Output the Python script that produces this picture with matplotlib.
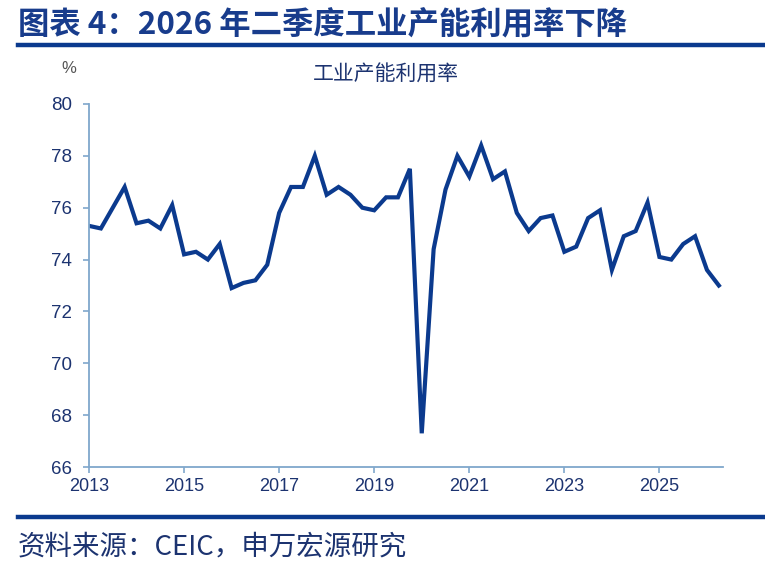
import matplotlib
matplotlib.use("Agg")
import matplotlib.pyplot as plt
from matplotlib.lines import Line2D

plt.rcParams['font.family'] = ['Noto Sans CJK SC', 'DejaVu Sans']

# Quarterly data 2013Q1 - 2026Q2
quarters = [f"{y}Q{q}" for y in range(2013, 2027) for q in range(1, 5)][:54]
utilization = [
    75.3, 75.2, 76.0, 76.8,   # 2013
    75.4, 75.5, 75.2, 76.1,   # 2014
    74.2, 74.3, 74.0, 74.6,   # 2015
    72.9, 73.1, 73.2, 73.8,   # 2016
    75.8, 76.8, 76.8, 78.0,   # 2017
    76.5, 76.8, 76.5, 76.0,   # 2018
    75.9, 76.4, 76.4, 77.5,   # 2019
    67.3, 74.4, 76.7, 78.0,   # 2020
    77.2, 78.4, 77.1, 77.4,   # 2021
    75.8, 75.1, 75.6, 75.7,   # 2022
    74.3, 74.5, 75.6, 75.9,   # 2023
    73.6, 74.9, 75.1, 76.2,   # 2024
    74.1, 74.0, 74.6, 74.9,   # 2025
    73.6, 73.0,               # 2026
]
xtick_labels = ["2013", "2015", "2017", "2019", "2021", "2023", "2025"]
yticks = [66, 68, 70, 72, 74, 76, 78, 80]

title = "图表 4：2026 年二季度工业产能利用率下降"
series_name = "工业产能利用率"
source = "资料来源：CEIC，申万宏源研究"

line_color = '#0b3a8e'
spine_color = '#7fa7cc'
text_color = '#1c3370'

fig = plt.figure(figsize=(7.65, 5.67), dpi=100)
ax = fig.add_axes([89/765, 1-467/567, (723-89)/765, (467-104)/567])

x = list(range(len(utilization)))
ax.plot(x, utilization, color=line_color, lw=3.0, solid_joinstyle='miter')

ax.set_xlim(0, 53.35)
ax.set_ylim(66, 80)
ax.set_yticks(yticks)
ax.set_yticklabels([str(v) for v in yticks])
ax.set_xticks([i * 8 for i in range(len(xtick_labels))])
ax.set_xticklabels(xtick_labels)

for s in ['top', 'right']:
    ax.spines[s].set_visible(False)
for s in ['left', 'bottom']:
    ax.spines[s].set_color(spine_color)
    ax.spines[s].set_linewidth(1.3)
ax.tick_params(axis='both', colors=spine_color, length=4, width=1.2, direction='out')
for lab in ax.get_xticklabels() + ax.get_yticklabels():
    lab.set_color(text_color)
    lab.set_fontfamily(['Liberation Sans', 'DejaVu Sans'])
    lab.set_fontsize(13)
for lab in ax.get_yticklabels():
    lab.set_fontsize(13.5)
ax.tick_params(axis='x', pad=4)
ax.tick_params(axis='y', pad=8)

# "%" unit label
fig.text(69/765, 1-69/567, "%", color='#555555', fontsize=12,
         family=['Liberation Sans', 'DejaVu Sans'], ha='center', va='center')

# series name
fig.text(386/765, 1-75/567, series_name, color=text_color, fontsize=15,
         ha='center', va='center')

# title
fig.text(18/765, 1-25/567, title, color='#183c8c', fontsize=22.6,
         fontweight='bold', ha='left', va='center')

# rules
fig.add_artist(Line2D([18/765, 1.0], [1-45/567, 1-45/567], color=line_color,
                      lw=3.2, transform=fig.transFigure))
fig.add_artist(Line2D([18/765, 1.0], [1-517/567, 1-517/567], color=line_color,
                      lw=3.2, transform=fig.transFigure))

# source
fig.text(18/765, 1-547/567, source, color=text_color, fontsize=19.8,
         ha='left', va='center')

fig.savefig("out.png", dpi=100)
